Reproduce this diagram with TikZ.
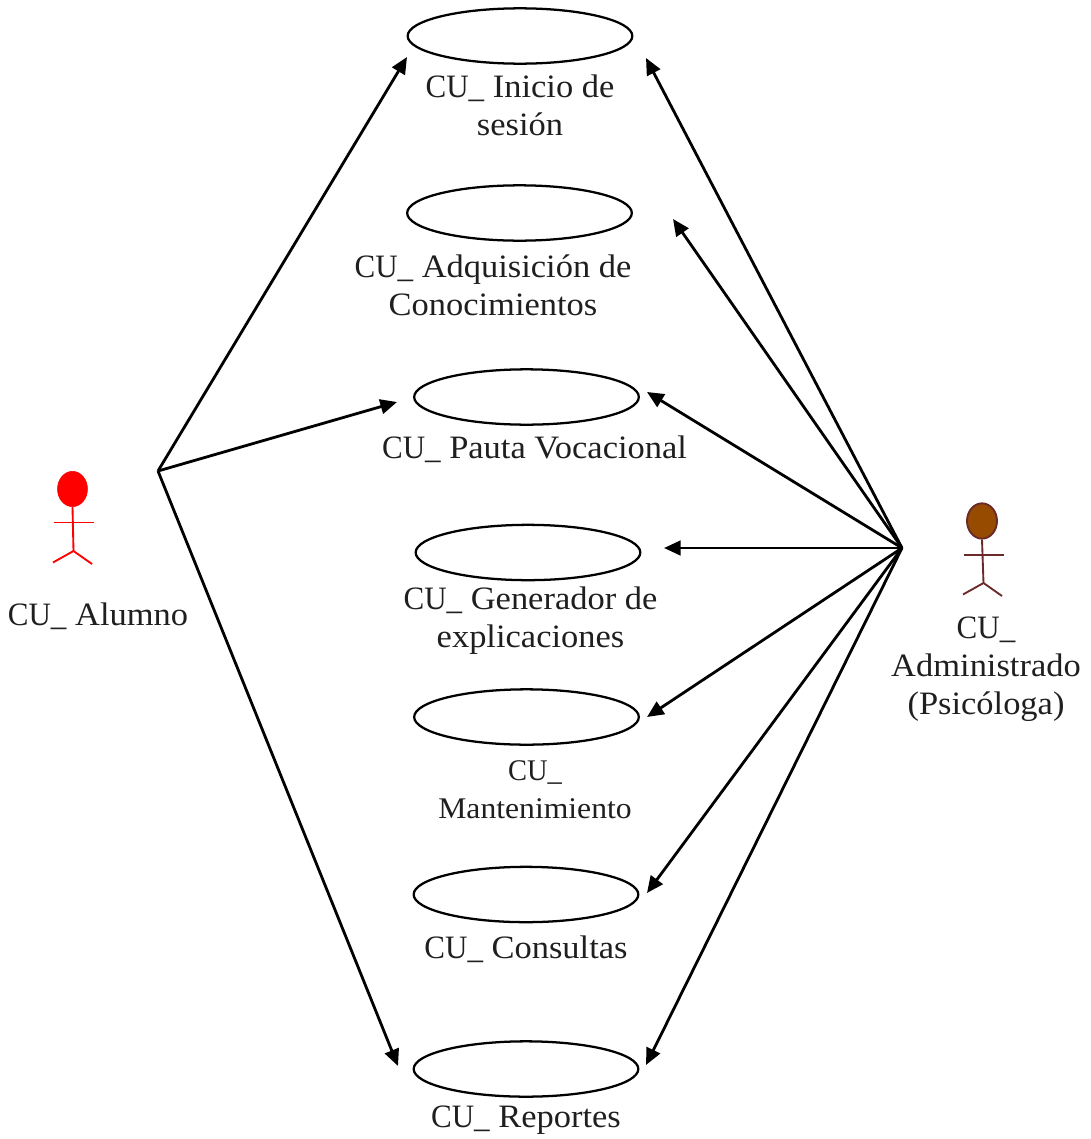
\documentclass[tikz,border=0pt]{standalone}
\usepackage{fontspec}
\setmainfont{Liberation Serif}[FakeStretch=1.055]
\usetikzlibrary{arrows.meta,shapes.geometric}
\newcommand{\cuname}{\scalebox{0.9}[1]{CU\_}}
\tikzset{
  x=0.75pt,y=-0.75pt,
  uc/.style={draw=black,line width=1.7pt,ellipse,minimum width=168.5pt,minimum height=41.5pt,inner sep=0pt,fill=white},
  lbl/.style={font=\fontsize{24.5}{28.5}\selectfont,align=center,inner sep=0pt,text=black!88},
  link/.style={draw=black,line width=2.1pt,-{Triangle[length=12.5pt,width=11pt]}},
  redact/.style={draw=red,line width=1.4pt},
  brnact/.style={draw=brn,line width=1.4pt},
}
\definecolor{brn}{HTML}{6B2A2A}
\definecolor{brnfill}{HTML}{964B00}
\begin{document}
\begin{tikzpicture}
\useasboundingbox (0,0) rectangle (1091,1139);
\node[uc] (u1) at (520,36) {};
\node[uc] (u2) at (519.5,213) {};
\node[uc] (u3) at (526.5,397) {};
\node[uc] (u4) at (528,552.5) {};
\node[uc] (u5) at (526.5,717) {};
\node[uc] (u6) at (526,894.5) {};
\node[uc] (u7) at (526,1069) {};
\node[lbl] (t1) at (520,105) {\cuname{} Inicio de\\sesión};
\node[lbl] (t2) at (493,285) {\cuname{} Adquisición de\\Conocimientos};
\node[lbl] (t3) at (534.5,449.5) {\cuname{} Pauta Vocacional};
\node[lbl] (t4) at (530.5,620.5) {\cuname{} Generador de\\explicaciones};
\node[lbl,font=\fontsize{22.5}{28.5}\selectfont] (t5) at (535,790) {\cuname\\Mantenimiento};
\node[lbl] (t6) at (526,949.5) {\cuname{} Consultas};
\node[lbl] (t7) at (526,1120.5) {\cuname{} Reportes};
\node[lbl] (t8) at (98,616.5) {\cuname{} Alumno};
\node[lbl] (t9) at (986,669) {\cuname\\Administrado\\(Psicóloga)};
% Alumno actor
\node[ellipse,fill=red,draw=red,minimum width=22.5pt,minimum height=26.5pt,inner sep=0pt] (ah) at (72.5,489) {};
\coordinate (an) at (73.5,551);
\draw[redact] (ah.south) -- (an);
\coordinate (al) at (54,522.5); \coordinate (ar) at (94,522.5);
\draw[redact] (al) -- (ar);
\coordinate (af) at (53,562.5); \coordinate (ag) at (92,564);
\draw[redact] (af) -- (an) -- (ag);
% Admin actor
\node[ellipse,fill=brnfill,draw=brn,line width=1.4pt,minimum width=22.5pt,minimum height=26.5pt,inner sep=0pt] (bh) at (982,521) {};
\coordinate (bn) at (983.5,583);
\draw[brnact] (bh.south) -- (bn);
\coordinate (bl) at (964,555); \coordinate (br) at (1003.5,555);
\draw[brnact] (bl) -- (br);
\coordinate (bf) at (963,594.5); \coordinate (bg) at (1002,596);
\draw[brnact] (bf) -- (bn) -- (bg);
% hubs and targets
\coordinate (A) at (158,471);
\coordinate (B) at (902,548);
\coordinate (a1) at (407,57);
\coordinate (a3) at (397,402);
\coordinate (a7) at (398,1066);
\coordinate (b1) at (646,58);
\coordinate (b2) at (673,219);
\coordinate (b3) at (647,392);
\coordinate (b4) at (664,548);
\coordinate (b5) at (647,717);
\coordinate (b6) at (647,893);
\coordinate (b7) at (646,1065);
\foreach \e in {a1,a3,a7} \draw[link] (A) -- (\e);
\foreach \e in {b1,b2,b3,b4,b5,b6,b7} \draw[link] (B) -- (\e);
\end{tikzpicture}
\end{document}
